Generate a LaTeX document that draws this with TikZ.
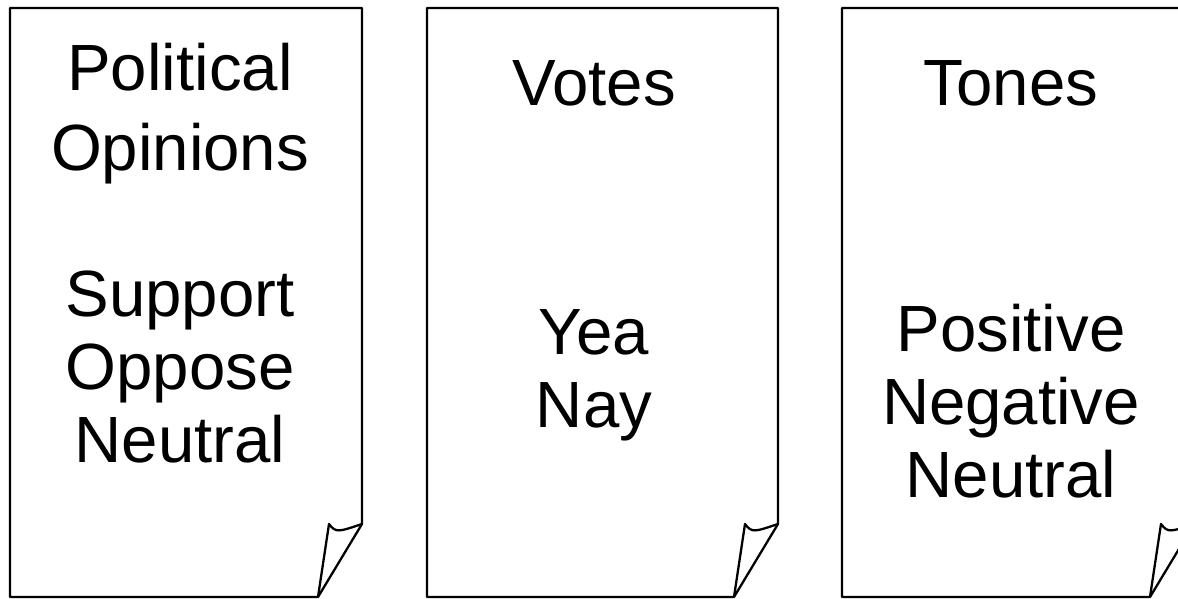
\documentclass[tikz,border=0pt]{standalone}
\usepackage{fontspec}
\setmainfont{Liberation Sans}
\usetikzlibrary{positioning}

\begin{document}
\begin{tikzpicture}[x=0.02cm,y=-0.02cm]
        \useasboundingbox (0,0) rectangle (1178,599);
        \clip (0,0) rectangle (1178,599);
        % the three sheets, each with its folded corner
        \begin{scope}[line width=1.3pt,line join=round]
          \foreach \px/\w in {10/352,427/351,842/352} {
            \coordinate (tl) at (\px,8);
            \coordinate (tr) at (\px+\w,8);
            \coordinate (cr) at (\px+\w,524);
            \coordinate (cb) at (\px+\w-44,597);
            \coordinate (bl) at (\px,597);
            \coordinate (tip) at (\px+\w-33,524);
            \draw (tl) -- (tr) -- (cr) -- (cb) -- (bl) -- cycle;
            \draw (cb) -- (tip) .. controls (\px+\w-26,533) and (\px+\w-24,532) .. (cr);
          }
        \end{scope}
        % texts, each placed at the baseline of its last line
        \begin{scope}[every node/.style={anchor=base,align=center,inner sep=0pt}]
          \node[font={\fontsize{37.2}{45.4}\selectfont}] (t1) at (180,170) {Political\\Opinions};
          \node[font={\fontsize{37.2}{41.4}\selectfont}] (b1) at (180,462) {Support\\Oppose\\Neutral};
          \node[font={\fontsize{37.2}{41.4}\selectfont}] (t2) at (594,105) {Votes};
          \node[font={\fontsize{37.2}{41.4}\selectfont}] (b2) at (594,427) {Yea\\Nay};
          \node[font={\fontsize{37.2}{41.4}\selectfont}] (t3) at (1011,105) {Tones};
          \node[font={\fontsize{37.2}{41.4}\selectfont}] (b3) at (1011,497) {Positive\\Negative\\Neutral};
        \end{scope}
      \end{tikzpicture}
\end{document}
